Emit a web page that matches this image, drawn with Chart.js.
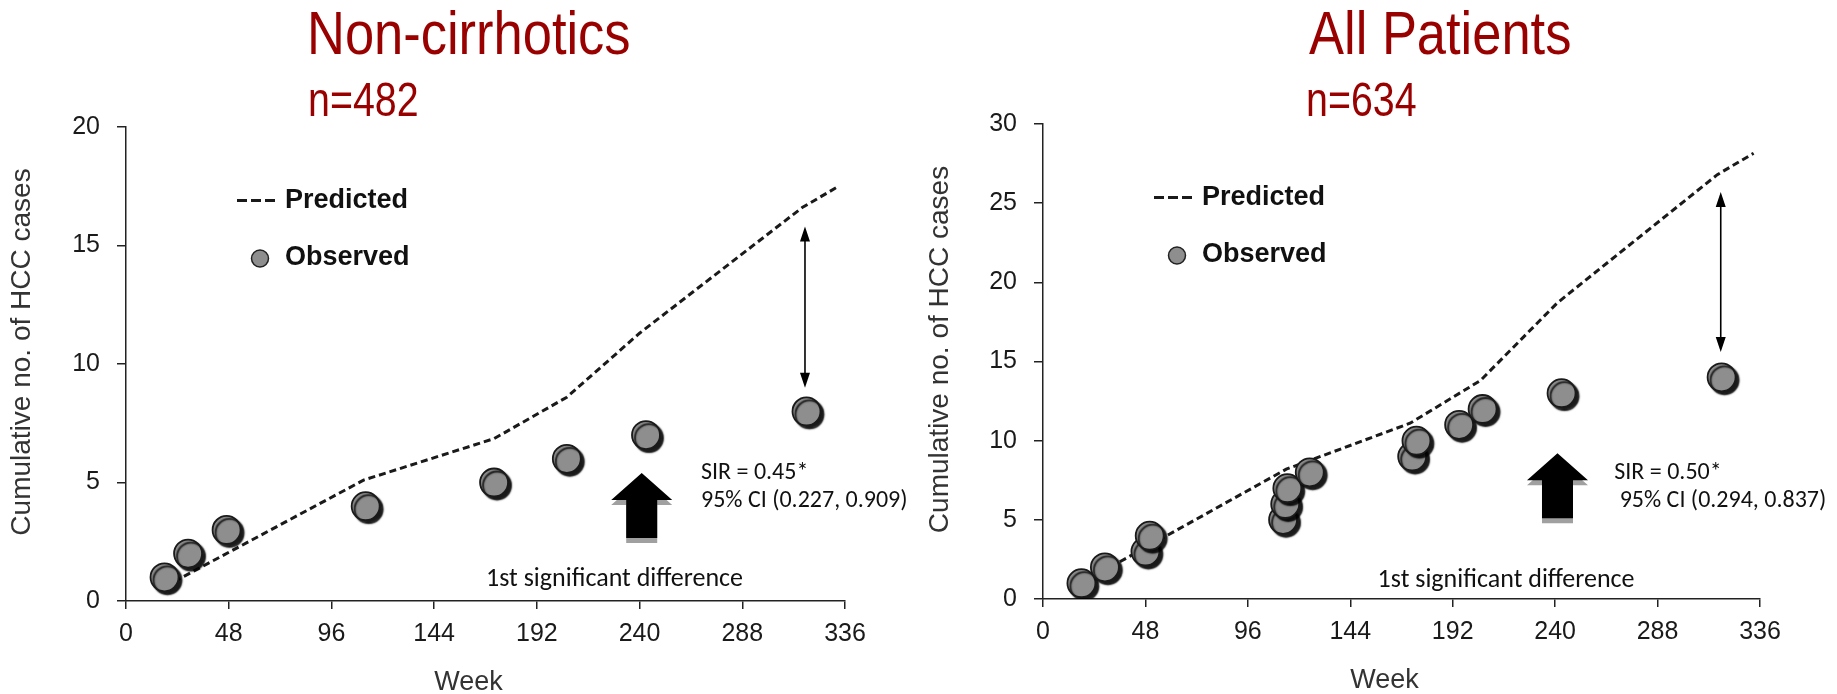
<!DOCTYPE html>
<html lang="en">
<head>
<meta charset="UTF-8">
<title>Observed vs predicted HCC cases</title>
<script src="https://cdn.jsdelivr.net/npm/chart.js@4.4.1/dist/chart.umd.min.js"></script>
<style>
    body {
        margin: 0;
        background: #fff;
        width: 1837px;
        height: 694px;
        position: relative;
        overflow: hidden;
        font-family: "Liberation Sans", Arial, sans-serif;
    }
    .panel { position: absolute; top: 0; height: 694px; }
    .panel canvas { position: absolute; left: 0; top: 0; }
    .title, .subtitle {
        position: absolute;
        color: #990000;
        white-space: nowrap;
        line-height: 1;
        transform-origin: left top;
    }
    .title { font-size: 61px; top: 3px; transform: scaleX(0.86); }
    .subtitle { font-size: 48px; top: 76px; transform: scaleX(0.82); }
</style>
</head>
<body>

<div class="panel" style="left:0;width:918px">
    <canvas id="leftChart" width="918" height="694"></canvas>
    <div class="title" style="left:307px">Non-cirrhotics</div>
    <div class="subtitle" style="left:308px">n=482</div>
</div>
<div class="panel" style="left:918px;width:919px">
    <canvas id="rightChart" width="919" height="694"></canvas>
    <div class="title" style="left:391px">All Patients</div>
    <div class="subtitle" style="left:388px">n=634</div>
</div>

<script>
// axis ticks
const weekTicks = [0, 48, 96, 144, 192, 240, 288, 336];
const nonCirrTicks = [0, 5, 10, 15, 20];
const allTicks = [0, 5, 10, 15, 20, 25, 30];

// Non-cirrhotics, n=482
const nonCirrPredWeeks = [18, 111, 172, 206, 240, 316, 333];
const nonCirrPredCases = [0.6, 5.1, 6.85, 8.6, 11.3, 16.6, 17.5];
const nonCirrObsWeeks = [18, 29, 47, 112, 172, 206, 243, 318];
const nonCirrObsCases = [1, 2, 3, 4, 5, 6, 7, 8];

// All patients, n=634
const allPredWeeks = [18, 114, 172, 205, 241, 316, 333];
const allPredCases = [1.0, 8.2, 11.1, 13.8, 18.7, 26.8, 28.15];
const allObsWeeks = [18, 29, 48, 50, 112.5, 113.5, 114.5, 125, 173, 175, 195, 206, 243, 318];
const allObsCases = [1, 2, 3, 4, 5, 6, 7, 8, 9, 10, 11, 12, 13, 14];

const FONT = '"Liberation Sans", Arial, sans-serif';
const NOTE_FONT = 'Carlito, Lato, sans-serif';

function toPoints(xs, ys) {
    return xs.map((x, i) => ({ x: x, y: ys[i] }));
}

// gray disc with a hard drop shadow, like the original markers
const shadowPlugin = {
    id: 'shadow',
    beforeDatasetDraw(chart, args) {
        if (args.index !== 1) return;
        const c = chart.ctx;
        c.save();
        c.shadowColor = 'rgba(0,0,0,0.9)';
        c.shadowOffsetX = 3;
        c.shadowOffsetY = 3;
        c.shadowBlur = 1.5;
    },
    afterDatasetDraw(chart, args) {
        if (args.index === 1) chart.ctx.restore();
    }
};

function bigArrow(c, x, yTip, color) {
    c.fillStyle = color;
    c.beginPath();
    c.moveTo(x, yTip);
    c.lineTo(x + 30.5, yTip + 27);
    c.lineTo(x + 15.5, yTip + 27);
    c.lineTo(x + 15.5, yTip + 65);
    c.lineTo(x - 15.5, yTip + 65);
    c.lineTo(x - 15.5, yTip + 27);
    c.lineTo(x - 30.5, yTip + 27);
    c.closePath();
    c.fill();
}

function makeDecor(cfg) {
    return {
        id: 'decor',
        afterDraw(chart) {
            const c = chart.ctx;
            const a = chart.chartArea;
            const xs = chart.scales.x, ys = chart.scales.y;
            c.save();

            // legend
            const lx = a.left, ly = a.top;
            c.strokeStyle = '#1a1a1a';
            c.lineWidth = 3;
            c.setLineDash([10, 4]);
            c.beginPath();
            c.moveTo(lx + 111, ly + 73.5);
            c.lineTo(lx + 150, ly + 73.5);
            c.stroke();
            c.setLineDash([]);
            c.beginPath();
            c.arc(lx + 134, ly + 131.5, 8.5, 0, Math.PI * 2);
            c.fillStyle = '#8e8e8e';
            c.fill();
            c.lineWidth = 1.5;
            c.strokeStyle = '#222';
            c.stroke();
            c.fillStyle = '#111';
            c.font = 'bold 27px ' + FONT;
            c.textAlign = 'left';
            c.textBaseline = 'middle';
            c.fillText('Predicted', lx + 159, ly + 73.5);
            c.fillText('Observed', lx + 159, ly + 131);

            // axis titles
            c.fillStyle = '#333';
            c.font = '27px ' + FONT;
            c.textAlign = 'center';
            c.fillText('Week', (a.left + a.right) / 2 - 17, a.bottom + 82);
            c.save();
            c.translate(22, (a.top + a.bottom) / 2 - 12);
            c.rotate(-Math.PI / 2);
            c.font = '28px ' + FONT;
            c.fillText('Cumulative no. of HCC cases', 0, 0);
            c.restore();

            // gap arrow between predicted and observed
            const gx = xs.getPixelForValue(cfg.gap.week);
            const gTop = ys.getPixelForValue(cfg.gap.to);
            const gBot = ys.getPixelForValue(cfg.gap.from);
            c.strokeStyle = '#000';
            c.lineWidth = 1.6;
            c.beginPath();
            c.moveTo(gx, gTop + 10);
            c.lineTo(gx, gBot - 10);
            c.stroke();
            c.fillStyle = '#000';
            c.beginPath();
            c.moveTo(gx, gTop);
            c.lineTo(gx + 5, gTop + 15);
            c.lineTo(gx - 5, gTop + 15);
            c.closePath();
            c.fill();
            c.beginPath();
            c.moveTo(gx, gBot);
            c.lineTo(gx + 5, gBot - 15);
            c.lineTo(gx - 5, gBot - 15);
            c.closePath();
            c.fill();

            // first significant difference arrow
            const bx = xs.getPixelForValue(cfg.sig.week);
            const by = ys.getPixelForValue(cfg.sig.tip);
            bigArrow(c, bx, by + 5, '#a0a0a0');
            bigArrow(c, bx, by, '#000');

            // SIR text
            c.fillStyle = '#111';
            c.font = '24px ' + NOTE_FONT;
            c.textAlign = 'left';
            const sx = xs.getPixelForValue(cfg.sir.week);
            const sy = ys.getPixelForValue(cfg.sir.value);
            cfg.sir.lines.forEach((t, i) => c.fillText(t, sx, sy + i * 28));

            c.font = '26px ' + NOTE_FONT;
            c.textAlign = 'center';
            c.fillText(cfg.note.text, xs.getPixelForValue(cfg.note.week), ys.getPixelForValue(cfg.note.value));
            c.restore();
        }
    };
}

function makeChart(id, opts) {
    const axisColor = '#222';
    new Chart(document.getElementById(id), {
        type: 'scatter',
        data: {
            datasets: [
                {
                    label: 'Predicted',
                    data: toPoints(opts.predWeeks, opts.predCases),
                    showLine: true,
                    borderColor: '#1a1a1a',
                    borderWidth: 3,
                    borderDash: [7, 4],
                    pointRadius: 0,
                    fill: false,
                    order: 1
                },
                {
                    label: 'Observed',
                    data: toPoints(opts.obsWeeks, opts.obsCases),
                    pointRadius: 14,
                    pointBackgroundColor: '#8e8e8e',
                    pointBorderColor: '#1a1a1a',
                    pointBorderWidth: 1.8,
                    order: 0
                }
            ]
        },
        options: {
            responsive: false,
            animation: false,
            layout: { padding: { left: 0, right: opts.padRight, top: opts.padTop, bottom: 0 } },
            plugins: { legend: { display: false }, tooltip: { enabled: false } },
            scales: {
                x: {
                    type: 'linear',
                    min: weekTicks[0],
                    max: weekTicks[weekTicks.length - 1],
                    afterBuildTicks: s => { s.ticks = weekTicks.map(v => ({ value: v })); },
                    afterFit: s => { s.height = opts.xHeight; },
                    border: { display: true, color: axisColor, width: 1.5 },
                    grid: { drawOnChartArea: false, drawTicks: true, tickLength: 8, color: axisColor, lineWidth: 1.5 },
                    ticks: { padding: 10, color: '#1a1a1a', font: { family: FONT, size: 25 }, maxRotation: 0 }
                },
                y: {
                    min: opts.yTicks[0],
                    max: opts.yTicks[opts.yTicks.length - 1],
                    afterBuildTicks: s => { s.ticks = opts.yTicks.map(v => ({ value: v })); },
                    afterFit: s => { s.width = opts.yWidth; },
                    border: { display: true, color: axisColor, width: 1.5 },
                    grid: { drawOnChartArea: false, drawTicks: true, tickLength: 9, color: axisColor, lineWidth: 1.5 },
                    ticks: { padding: 17, color: '#1a1a1a', font: { family: FONT, size: 25 } }
                }
            }
        },
        plugins: [shadowPlugin, makeDecor(opts.notes)]
    });
}

makeChart('leftChart', {
    predWeeks: nonCirrPredWeeks, predCases: nonCirrPredCases,
    obsWeeks: nonCirrObsWeeks, obsCases: nonCirrObsCases,
    yTicks: nonCirrTicks,
    yWidth: 126, padRight: 73, padTop: 127, xHeight: 93,
    notes: {
        gap: { week: 317.3, from: 9.0, to: 15.8 },
        sig: { week: 241, tip: 5.4 },
        sir: { week: 268.7, value: 5.4, lines: ['SIR = 0.45*', '95% CI (0.227, 0.909)'] },
        note: { week: 228.3, value: 0.89, text: '1st significant difference' }
    }
});

makeChart('rightChart', {
    predWeeks: allPredWeeks, predCases: allPredCases,
    obsWeeks: allObsWeeks, obsCases: allObsCases,
    yTicks: allTicks,
    yWidth: 125, padRight: 77, padTop: 124, xHeight: 95,
    notes: {
        gap: { week: 317.6, from: 15.6, to: 25.7 },
        sig: { week: 241.1, tip: 9.2 },
        sir: { week: 267.7, value: 7.98, lines: ['SIR = 0.50*', ' 95% CI (0.294, 0.837)'] },
        note: { week: 217, value: 1.2, text: '1st significant difference' }
    }
});
</script>
</body>
</html>
